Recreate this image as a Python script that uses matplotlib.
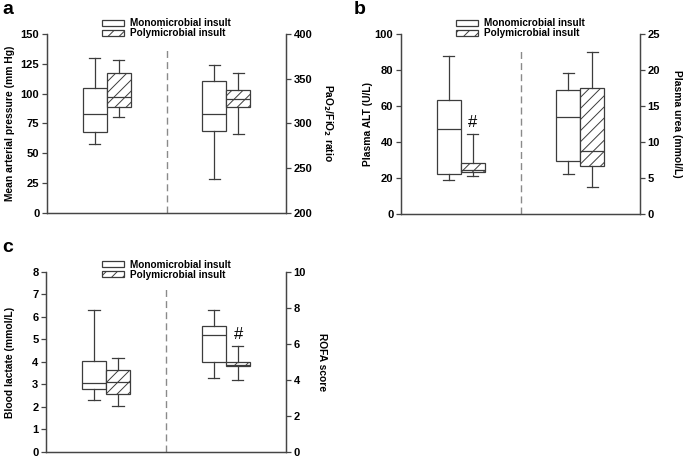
import matplotlib
matplotlib.use("Agg")
import matplotlib.pyplot as plt
from matplotlib.patches import Patch

plt.rcParams['font.family'] = ['Liberation Sans', 'DejaVu Sans']
plt.rcParams['font.weight'] = 'bold'
plt.rcParams['hatch.linewidth'] = 0.7

# ===============================
# Data  (whislo, q1, median, q3, whishi)
# ===============================
a_map_mono = [58, 67.5, 83, 105, 130]
a_map_poly = [80, 88.5, 97, 117, 128]
a_pf_mono = [238, 292, 311, 347, 365]
a_pf_poly = [288, 318, 327, 337, 356]

b_alt_mono = [19, 22, 47, 63.5, 87.5]
b_alt_poly = [21, 23.5, 24.5, 28, 44.5]
b_urea_mono = [5.6, 7.3, 13.4, 17.2, 19.5]
b_urea_poly = [3.8, 6.7, 8.7, 17.5, 22.5]

c_lac_mono = [2.33, 2.8, 3.05, 4.02, 6.33]
c_lac_poly = [2.05, 2.56, 3.1, 3.65, 4.16]
c_rofa_mono = [4.1, 5.0, 6.5, 7.0, 7.9]
c_rofa_poly = [4.0, 4.75, 4.85, 5.0, 5.9]

legend_labels = ["Monomicrobial insult", "Polymicrobial insult"]

EDGE = '#3c3c3c'
SPINE = '#454545'


def stats_of(v):
    return dict(whislo=v[0], q1=v[1], med=v[2], q3=v[3], whishi=v[4], fliers=[])


def draw_pair(ax, mono, poly, positions):
    arts = ax.bxp([stats_of(mono), stats_of(poly)], positions=positions,
                  widths=1.0, capwidths=0.47, patch_artist=True,
                  showfliers=False, manage_ticks=False,
                  boxprops=dict(facecolor='white', edgecolor=EDGE, linewidth=0.9),
                  medianprops=dict(color=EDGE, linewidth=0.9),
                  whiskerprops=dict(color=EDGE, linewidth=0.9),
                  capprops=dict(color=EDGE, linewidth=0.9))
    arts['boxes'][1].set_hatch('///')


def draw_panel(rect, letter, letter_xy, left_data, right_data, left_lim, left_ticks,
               right_lim, right_ticks, left_label, right_label,
               label_x, legend_y):
    ax = fig.add_axes(rect)
    ax2 = ax.twinx()
    for a in (ax, ax2):
        a.set_xlim(0, 10)
        a.spines['top'].set_visible(False)
        for s in a.spines.values():
            s.set_color(SPINE)
            s.set_linewidth(0.9)
        a.tick_params(axis='y', length=3.5, width=0.9, color=SPINE,
                      labelsize=8, pad=2)
    ax.set_xticks([])
    ax.set_ylim(*left_lim)
    ax.set_yticks(left_ticks)
    ax2.set_ylim(*right_lim)
    ax2.set_yticks(right_ticks)

    draw_pair(ax, left_data[0], left_data[1], [2, 3])
    draw_pair(ax2, right_data[0], right_data[1], [7, 8])

    ax.axvline(5, ymin=0, ymax=0.91, color='#8a8a8a', lw=1.0,
               linestyle=(0, (5, 3)))

    ax.set_ylabel(left_label, fontsize=7.4, fontweight='bold')
    ax2.set_ylabel(right_label, fontsize=7.4, fontweight='bold', rotation=270)
    ax.yaxis.set_label_coords(label_x[0], 0.5)
    ax2.yaxis.set_label_coords(label_x[1], 0.5)

    handles = [Patch(facecolor='white', edgecolor=EDGE, linewidth=0.9),
               Patch(facecolor='white', edgecolor=EDGE, linewidth=0.9, hatch='///')]
    ax2.legend(handles, legend_labels, loc='upper center',
               bbox_to_anchor=(0.5, legend_y), frameon=False,
               fontsize=7.2, handlelength=2.2, handleheight=0.55,
               handletextpad=0.6, labelspacing=0.0, borderpad=0)

    fig.text(letter_xy[0], letter_xy[1], letter,
             fontsize=14, fontweight='bold', ha='left', va='baseline')
    return ax, ax2


fig = plt.figure(figsize=(6.85, 4.57), dpi=100)

ax_a, ax_a2 = draw_panel([0.0686, 0.534, 0.349, 0.392], 'a', (0.004, 0.969),
                         (a_map_mono, a_map_poly), (a_pf_mono, a_pf_poly),
                         (0, 150), range(0, 151, 25), (200, 400), range(200, 401, 50),
                         "Mean arterial pressure (mm Hg)",
                         "PaO$_\\mathbf{2}$/FiO$_\\mathbf{2}$ ratio",
                         (-0.134, 1.202), 1.115)

ax_b, ax_b2 = draw_panel([0.5854, 0.532, 0.349, 0.394], 'b', (0.517, 0.969),
                         (b_alt_mono, b_alt_poly), (b_urea_mono, b_urea_poly),
                         (0, 100), range(0, 101, 20), (0, 25), range(0, 26, 5),
                         "Plasma ALT (U/L)", "Plasma urea (mmol/L)",
                         (-0.117, 1.176), 1.115)
ax_b.text(3, 51, '#', fontsize=12, fontweight='normal', ha='center', va='center')

ax_c, ax_c2 = draw_panel([0.0672, 0.011, 0.350, 0.394], 'c', (0.004, 0.449),
                         (c_lac_mono, c_lac_poly), (c_rofa_mono, c_rofa_poly),
                         (0, 8), range(0, 9), (0, 10), range(0, 11, 2),
                         "Blood lactate (mmol/L)", "ROFA score",
                         (-0.129, 1.174), 1.095)
ax_c2.text(8.05, 6.55, '#', fontsize=12, fontweight='normal', ha='center', va='center')

fig.savefig("out.png", dpi=100)
